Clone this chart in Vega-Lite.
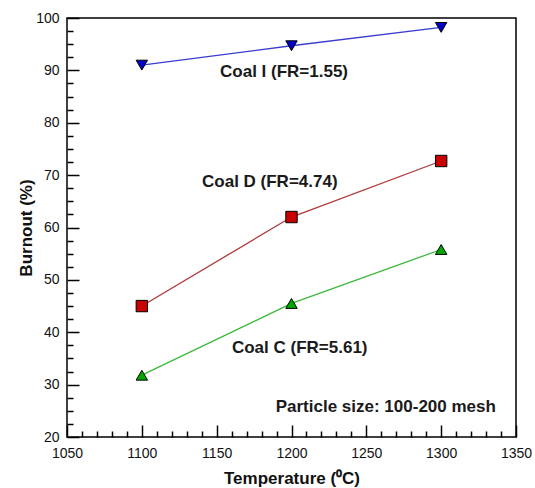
{
  "$schema": "https://vega.github.io/schema/vega-lite/v6.json",
  "width": 449,
  "height": 419,
  "autosize": {"type": "none"},
  "padding": {"left": 67, "top": 18, "right": 19, "bottom": 51},
  "background": "white",
  "config": {
    "view": {"stroke": "black", "strokeWidth": 1.5},
    "font": "Liberation Sans",
    "axis": {
      "grid": false,
      "domain": false,
      "labelFontSize": 14,
      "labelColor": "#111",
      "labelOverlap": false,
      "labelFlush": false,
      "titleFontSize": 17,
      "titleFontWeight": "bold",
      "titleColor": "#111",
      "tickColor": "black",
      "tickWidth": 1.5
    }
  },
  "datasets": {
    "series": [
      {"coal": "Coal I", "T": 1100, "burnout": 91.0},
      {"coal": "Coal I", "T": 1200, "burnout": 94.7},
      {"coal": "Coal I", "T": 1300, "burnout": 98.2},
      {"coal": "Coal D", "T": 1100, "burnout": 45.0},
      {"coal": "Coal D", "T": 1200, "burnout": 62.0},
      {"coal": "Coal D", "T": 1300, "burnout": 72.7},
      {"coal": "Coal C", "T": 1100, "burnout": 31.8},
      {"coal": "Coal C", "T": 1200, "burnout": 45.5},
      {"coal": "Coal C", "T": 1300, "burnout": 55.8}
    ],
    "labels": [
      {"text": "Coal I (FR=1.55)", "T": 1195, "burnout": 89.6},
      {"text": "Coal D (FR=4.74)", "T": 1185.5, "burnout": 68.6},
      {"text": "Coal C (FR=5.61)", "T": 1205.5, "burnout": 37.0},
      {"text": "Particle size: 100-200 mesh", "T": 1263, "burnout": 25.7}
    ]
  },
  "layer": [
    {
      "data": {"name": "series"},
      "mark": {"type": "line", "strokeWidth": 1.3},
      "encoding": {
        "x": {
          "field": "T", "type": "quantitative",
          "scale": {"domain": [1050, 1350], "nice": false, "zero": false},
          "axis": {
            "title": "Temperature (⁰C)",
            "values": [1050,1060,1070,1080,1090,1100,1110,1120,1130,1140,1150,1160,1170,1180,1190,1200,1210,1220,1230,1240,1250,1260,1270,1280,1290,1300,1310,1320,1330,1340,1350],
            "tickCount": 100,
            "labelExpr": "datum.value % 50 === 0 ? datum.label : ''",
            "tickSize": {"condition": {"test": "datum.value % 50 === 0", "value": -12}, "value": -6},
            "labelPadding": 21,
            "titlePadding": 4,
            "format": "d"
          }
        },
        "y": {
          "field": "burnout", "type": "quantitative",
          "scale": {"domain": [20, 100], "nice": false, "zero": false},
          "axis": {
            "title": "Burnout (%)",
            "values": [20,22.5,25,27.5,30,32.5,35,37.5,40,42.5,45,47.5,50,52.5,55,57.5,60,62.5,65,67.5,70,72.5,75,77.5,80,82.5,85,87.5,90,92.5,95,97.5,100],
            "tickCount": 100,
            "labelExpr": "datum.value % 10 === 0 ? datum.label : ''",
            "tickSize": {"condition": {"test": "datum.value % 10 === 0", "value": -12}, "value": -6},
            "labelPadding": 20,
            "titlePadding": 0,
            "format": "d"
          }
        },
        "color": {
          "field": "coal", "type": "nominal",
          "scale": {"domain": ["Coal I", "Coal D", "Coal C"], "range": ["#3b3bd0", "#b03838", "#3cb83c"]},
          "legend": null
        }
      }
    },
    {
      "data": {"name": "series"},
      "mark": {"type": "point", "filled": true, "stroke": "black", "strokeWidth": 1, "opacity": 1, "size": 130},
      "encoding": {
        "x": {"field": "T", "type": "quantitative"},
        "y": {"field": "burnout", "type": "quantitative"},
        "shape": {
          "field": "coal", "type": "nominal",
          "scale": {"domain": ["Coal I", "Coal D", "Coal C"], "range": ["triangle-down", "square", "triangle-up"]},
          "legend": null
        },
        "fill": {
          "field": "coal", "type": "nominal",
          "scale": {"domain": ["Coal I", "Coal D", "Coal C"], "range": ["#0000c8", "#c80000", "#00a800"]},
          "legend": null
        }
      }
    },
    {
      "data": {"name": "labels"},
      "mark": {"type": "text", "fontSize": 17, "fontWeight": "bold", "color": "#1a1a1a", "align": "center", "baseline": "middle"},
      "encoding": {
        "x": {"field": "T", "type": "quantitative"},
        "y": {"field": "burnout", "type": "quantitative"},
        "text": {"field": "text", "type": "nominal"}
      }
    }
  ]
}
